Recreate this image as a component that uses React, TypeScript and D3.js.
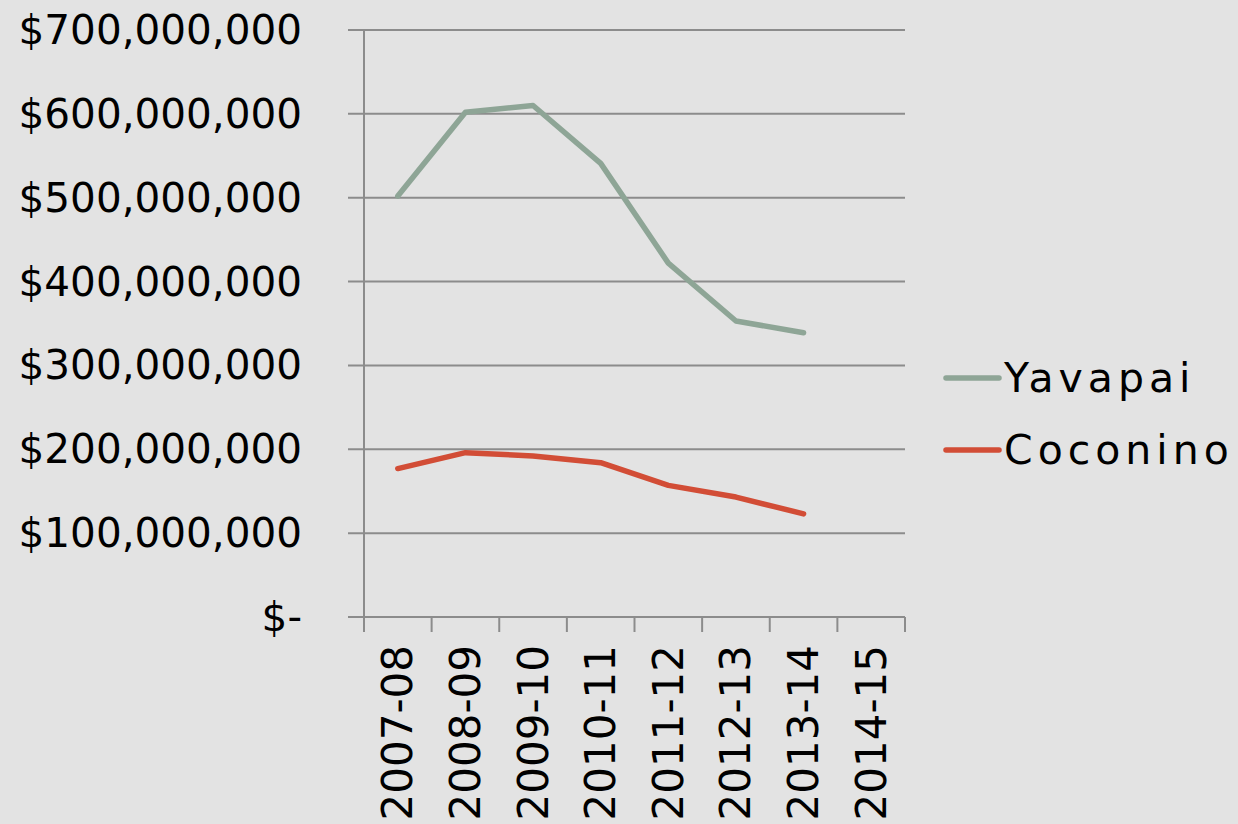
import React from "react";
import * as d3 from "d3";

const categories = ["2007-08", "2008-09", "2009-10", "2010-11", "2011-12", "2012-13", "2013-14", "2014-15"];
const yavapai = [502000000, 602000000, 610000000, 541000000, 422000000, 353000000, 339000000];
const coconino = [177000000, 196000000, 192000000, 184000000, 157000000, 143000000, 123000000];
const yTicks = [0, 100000000, 200000000, 300000000, 400000000, 500000000, 600000000, 700000000];
const seriesNames = ["Yavapai", "Coconino"];
const seriesColors = ["#8ea596", "#d24d36"];

const W = 1238;
const H = 824;
const FONT = "'DejaVu Sans', sans-serif";

export default function App() {
  const x = d3.scaleBand<string>().domain(categories).range([364, 905]).paddingInner(0).paddingOuter(0);
  const y = d3.scaleLinear().domain([0, 700000000]).range([617, 30]);
  const fmt = (v: number) => (v === 0 ? "$-" : "$" + d3.format(",")(v));
  const line = d3
    .line<number>()
    .x((_, i) => (x(categories[i]) as number) + x.bandwidth() / 2)
    .y((d) => y(d));
  const series = [yavapai, coconino];
  const gridColor = "#8c8c8c";

  return (
    <svg
      width={W}
      height={H}
      style={{ position: "absolute", left: 0, top: 0, display: "block" }}
      fontFamily={FONT}
    >
      <rect x={0} y={0} width={W} height={H} fill="#e3e3e3" />
      {yTicks.map((t) => (
        <g key={t}>
          <line x1={348} x2={905} y1={y(t)} y2={y(t)} stroke={gridColor} strokeWidth={2} />
          <text x={302} y={y(t)} textAnchor="end" dominantBaseline="central" fontSize={40.5} fill="#000">
            {fmt(t)}
          </text>
        </g>
      ))}
      <line x1={364} x2={364} y1={30} y2={632} stroke={gridColor} strokeWidth={2} />
      {categories.map((c, i) => (
        <line
          key={"t" + i}
          x1={(x(c) as number) + x.bandwidth()}
          x2={(x(c) as number) + x.bandwidth()}
          y1={617}
          y2={632}
          stroke={gridColor}
          strokeWidth={2}
        />
      ))}
      {categories.map((c) => {
        const cx = (x(c) as number) + x.bandwidth() / 2;
        return (
          <text
            key={c}
            transform={`translate(${cx},645) rotate(-90)`}
            textAnchor="end"
            dominantBaseline="central"
            fontSize={42}
            fill="#000"
          >
            {c}
          </text>
        );
      })}
      {series.map((s, i) => (
        <path
          key={seriesNames[i]}
          d={line(s) as string}
          fill="none"
          stroke={seriesColors[i]}
          strokeWidth={5.5}
          strokeLinejoin="round"
          strokeLinecap="round"
        />
      ))}
      {seriesNames.map((n, i) => {
        const ly = 378 + i * 72;
        return (
          <g key={n}>
            <line x1={946} x2={999} y1={ly} y2={ly} stroke={seriesColors[i]} strokeWidth={5.5} strokeLinecap="round" />
            <text x={1004} y={ly} dominantBaseline="central" fontSize={41} letterSpacing={5} fill="#000">
              {n}
            </text>
          </g>
        );
      })}
    </svg>
  );
}
